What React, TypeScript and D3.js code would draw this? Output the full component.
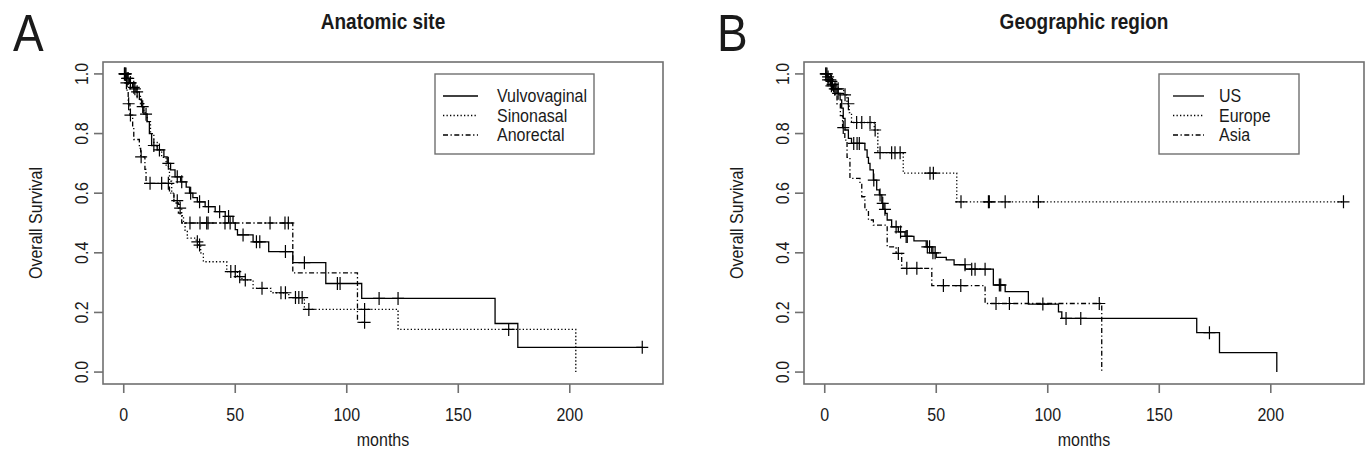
import React from "react";
import * as d3 from "d3";

// Panel A: anatomic site. Times in months, survival after each step.
const vulvoTimes = [1.5, 2.5, 4, 5.5, 7, 8, 9, 10.5, 11.5, 12.5, 15, 18, 19.5, 21, 23, 25.5, 28, 29.5, 31, 33, 36.5, 41, 45.5, 49, 50, 51, 58, 65, 75.8, 90.6, 106.7, 166.5, 176.7];
const vulvoSurv = [0.985, 0.97, 0.955, 0.94, 0.915, 0.89, 0.865, 0.84, 0.8, 0.76, 0.745, 0.722, 0.7, 0.678, 0.655, 0.638, 0.62, 0.6, 0.585, 0.571, 0.555, 0.538, 0.522, 0.5, 0.478, 0.46, 0.437, 0.404, 0.367, 0.297, 0.247, 0.163, 0.083];
const vulvoCensor = [0.5, 1, 2, 3, 4.5, 6, 8.5, 10, 13.5, 16, 20, 24, 26, 30, 34, 38, 43, 47, 53.5, 59.5, 61, 72.5, 81, 95.8, 97, 114.5, 123, 232.5];

const sinoTimes = [1, 2.5, 4, 6, 7.5, 9, 10.5, 12, 13.5, 15, 17, 19, 20.5, 21.5, 22.5, 25, 26, 26.8, 27.5, 28.5, 32.5, 33.5, 34.5, 35.7, 46.2, 51, 53, 58, 66, 74, 81, 123, 202.7];
const sinoSurv = [0.985, 0.97, 0.95, 0.925, 0.9, 0.87, 0.84, 0.8, 0.77, 0.745, 0.72, 0.69, 0.64, 0.6, 0.575, 0.55, 0.525, 0.5, 0.475, 0.449, 0.437, 0.426, 0.4, 0.37, 0.337, 0.32, 0.309, 0.281, 0.266, 0.25, 0.21, 0.143, 0];
const sinoCensor = [1.5, 3, 5, 24, 25.3, 33, 34, 48, 50, 52, 54.5, 62, 70.5, 72.5, 77, 78.5, 80, 83, 108, 172.6];

const anoTimes = [0.8, 1.5, 2, 2.8, 4, 4.5, 7, 7.6, 9.5, 10, 20.5, 22.5, 24.5, 26, 75.8, 104.8];
const anoSurv = [0.97, 0.94, 0.9, 0.862, 0.82, 0.78, 0.75, 0.722, 0.68, 0.633, 0.6, 0.567, 0.533, 0.5, 0.333, 0.167];
const anoCensor = [0.3, 0.6, 1.2, 2.2, 3, 7.8, 11.8, 17, 20, 29.7, 34.2, 37.2, 37.8, 45.4, 47.7, 65.6, 72.3, 73.8, 108];

// Panel B: geographic region
const usTimes = [1, 2, 3, 4, 5.5, 6.9, 7.6, 8.3, 9.1, 10.6, 12, 18, 19, 19.6, 20.3, 21.8, 23.3, 24.5, 25.6, 26.5, 27.2, 28, 30, 33, 36, 40, 45.5, 48, 50, 54.5, 58, 63, 75.6, 80.9, 91.3, 104.8, 106.3, 166.8, 177, 202.7];
const usSurv = [0.99, 0.98, 0.965, 0.95, 0.935, 0.913, 0.885, 0.851, 0.812, 0.784, 0.767, 0.745, 0.72, 0.7, 0.678, 0.644, 0.611, 0.594, 0.566, 0.546, 0.532, 0.51, 0.487, 0.47, 0.455, 0.44, 0.42, 0.4, 0.385, 0.376, 0.36, 0.345, 0.292, 0.27, 0.228, 0.202, 0.18, 0.132, 0.065, 0];
const usCensor = [0.5, 1.5, 2.5, 3.5, 4.5, 5, 6, 13, 14.5, 15.5, 22, 24.8, 26, 27, 32, 34, 36.5, 37, 46, 47, 48.5, 49.5, 62.9, 65.9, 67.4, 71.9, 78.3, 78.9, 97.8, 108.2, 114.8, 172.5];

const euTimes = [2, 5, 8.5, 10, 11, 12, 22.2, 23.8, 35.2, 59.2];
const euSurv = [0.975, 0.95, 0.93, 0.9, 0.87, 0.837, 0.812, 0.736, 0.667, 0.571];
const euCensor = [1, 3, 6, 9.1, 10.6, 14.3, 16.6, 20.3, 22.6, 24.8, 30, 31.5, 33.8, 47.2, 48.7, 61.1, 73.4, 73.8, 80.9, 95.8, 232.6];

const asiaTimes = [1, 2.5, 4, 5.5, 7, 8, 9, 10, 11.3, 15.8, 16.6, 18, 19.6, 21.8, 28, 32, 34.5, 48, 71.9, 124.2];
const asiaSurv = [0.98, 0.96, 0.93, 0.9, 0.86, 0.82, 0.778, 0.72, 0.65, 0.633, 0.588, 0.544, 0.51, 0.493, 0.42, 0.398, 0.348, 0.29, 0.23, 0];
const asiaCensor = [0.5, 1.5, 3, 8.3, 33, 36.8, 41.3, 53.2, 61, 76.8, 82.8, 123.1];

const xTicks = [0, 50, 100, 150, 200];
const yTicks = [0, 0.2, 0.4, 0.6, 0.8, 1.0];
const yTickLabels = ["0.0", "0.2", "0.4", "0.6", "0.8", "1.0"];

const siteLabels = ["Vulvovaginal", "Sinonasal", "Anorectal"];
const regionLabels = ["US", "Europe", "Asia"];

const FONT = "'Liberation Sans', Arial, Helvetica, sans-serif";
const DASH = ["none", "1.3 2.2", "5 2.5 1.3 2.5"];
const GREY = "#707070";
const INK = "#1a1a1a";

// text with slightly taller glyphs, like the reference rendering
const T = ({ x, y, size, rot = 0, anchor = "middle", bold = false, sy = 1.12, children }) => (
  <text
    transform={`translate(${x},${y}) rotate(${rot}) scale(1,${sy})`}
    fontFamily={FONT}
    fontSize={size}
    fontWeight={bold ? "bold" : "normal"}
    textAnchor={anchor}
    fill={INK}
  >
    {children}
  </text>
);

const survAt = (times, surv, t) => {
  const i = d3.bisectRight(times, t);
  return i === 0 ? 1 : surv[i - 1];
};

const Panel = ({ dx, letter, title, series, labels, legend }) => {
  const left = 103 + dx, right = 663 + dx, top = 62, bottom = 384;
  const x = d3.scaleLinear().domain([-9.3, 241.8]).range([left, right]);
  const y = d3.scaleLinear().domain([-0.04, 1.04]).range([bottom, top]);
  const line = d3
    .line<number[]>()
    .x(d => x(d[0]))
    .y(d => y(d[1]))
    .curve(d3.curveStepAfter);
  const cx = (left + right) / 2;
  const cy = (top + bottom) / 2;
  const rows = [96, 115.5, 135];

  return (
    <g>
      <T x={dx + (letter === "A" ? 13 : 16)} y={51} size={46} sy={1.14}>
        <tspan textAnchor="start">{letter}</tspan>
      </T>
      <T x={cx} y={29} size={19} bold>{title}</T>

      {series.map((s, k) => {
        const tEnd = Math.max(s.times[s.times.length - 1], s.censor[s.censor.length - 1]);
        const pts = [[0, 1], ...s.times.map((t, i) => [t, s.surv[i]]), [tEnd, s.surv[s.surv.length - 1]]];
        return (
          <g key={k}>
            <path d={line(pts)} fill="none" stroke="#000" strokeWidth={1.3} strokeDasharray={DASH[k]} />
            {s.censor.map((c, i) => {
              const px = x(c), py = y(survAt(s.times, s.surv, c));
              return (
                <path key={i} d={`M${px - 6},${py}H${px + 6}M${px},${py - 6.5}V${py + 6.5}`} stroke="#000" strokeWidth={1.2} />
              );
            })}
          </g>
        );
      })}

      <rect x={left} y={top} width={right - left} height={bottom - top} fill="none" stroke={GREY} strokeWidth={1.6} />

      {xTicks.map(t => (
        <g key={t}>
          <line x1={x(t)} x2={x(t)} y1={bottom} y2={bottom + 9} stroke={GREY} strokeWidth={1.6} />
          <T x={x(t)} y={421} size={16}>{t}</T>
        </g>
      ))}
      {yTicks.map((t, i) => (
        <g key={t}>
          <line x1={left - 9} x2={left} y1={y(t)} y2={y(t)} stroke={GREY} strokeWidth={1.6} />
          <T x={left - 15.5} y={y(t)} size={16} rot={-90}>{yTickLabels[i]}</T>
        </g>
      ))}
      <T x={cx} y={446} size={16}>months</T>
      <T x={left - 61.3} y={cy} size={16} rot={-90}>Overall Survival</T>

      <rect x={legend.x0} y={74} width={legend.x1 - legend.x0} height={80} fill="#fff" stroke={GREY} strokeWidth={1.4} />
      {labels.map((lab, k) => (
        <g key={lab}>
          <line x1={legend.l0} x2={legend.l1} y1={rows[k]} y2={rows[k]} stroke="#000" strokeWidth={1.3} strokeDasharray={DASH[k]} />
          <T x={legend.tx} y={rows[k] + 6.3} size={16} anchor="start">{lab}</T>
        </g>
      ))}
    </g>
  );
};

export default function App() {
  const siteSeries = [
    { times: vulvoTimes, surv: vulvoSurv, censor: vulvoCensor },
    { times: sinoTimes, surv: sinoSurv, censor: sinoCensor },
    { times: anoTimes, surv: anoSurv, censor: anoCensor },
  ];
  const regionSeries = [
    { times: usTimes, surv: usSurv, censor: usCensor },
    { times: euTimes, surv: euSurv, censor: euCensor },
    { times: asiaTimes, surv: asiaSurv, censor: asiaCensor },
  ];
  return (
    <svg
      width={1368}
      height={464}
      style={{ position: "absolute", left: 0, top: 0, background: "#fff" }}
    >
      <Panel
        dx={0}
        letter="A"
        title="Anatomic site"
        series={siteSeries}
        labels={siteLabels}
        legend={{ x0: 435, x1: 594, l0: 443, l1: 478, tx: 497 }}
      />
      <Panel
        dx={701}
        letter="B"
        title="Geographic region"
        series={regionSeries}
        labels={regionLabels}
        legend={{ x0: 1159 - 701 + 701, x1: 1299, l0: 1173, l1: 1204, tx: 1219 }}
      />
    </svg>
  );
}
